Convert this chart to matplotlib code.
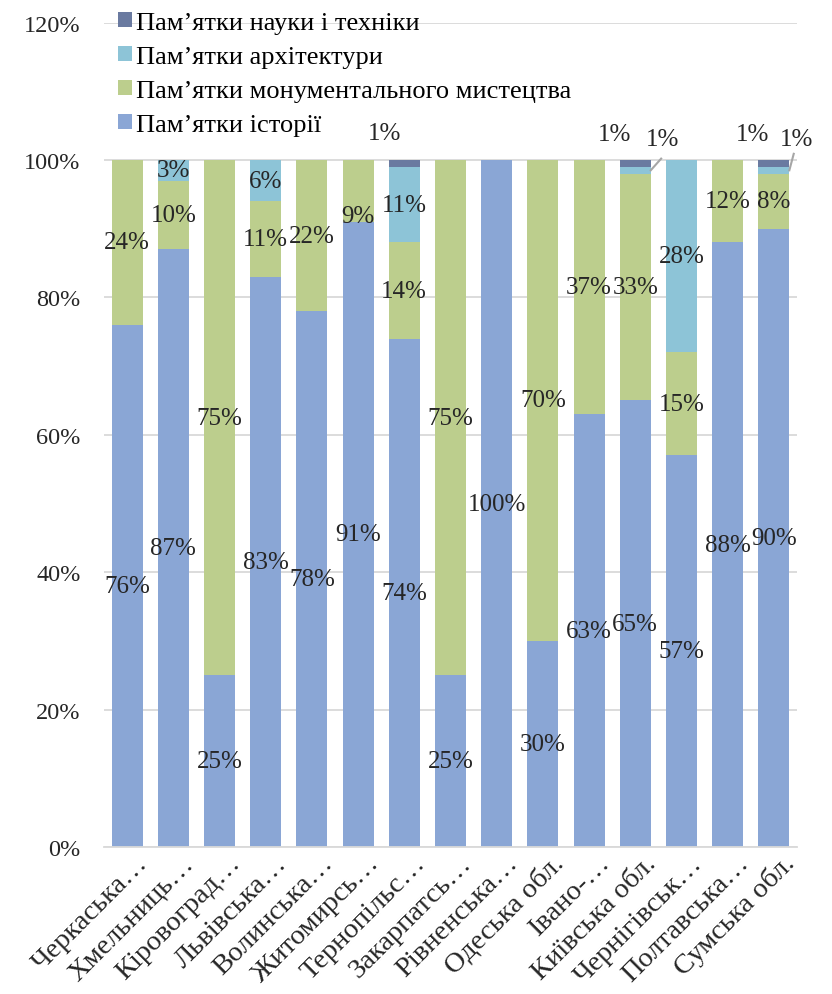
import matplotlib.pyplot as plt
import matplotlib.transforms as mtransforms
import numpy as np

plt.rcParams['font.family'] = ['Liberation Serif', 'DejaVu Serif']

# Регіони (підписи обрізані як в оригіналі)
regions = ['Черкаська…', 'Хмельниць…', 'Кіровоград…', 'Львівська…', 'Волинська…',
           'Житомирсь…', 'Тернопільс…', 'Закарпатсь…', 'Рівненська…', 'Одеська обл.',
           'Івано-…', 'Київська обл.', 'Чернігівськ…', 'Полтавська…', 'Сумська обл.']

# Частки пам'яток, %
history = [76, 87, 25, 83, 78, 91, 74, 25, 100, 30, 63, 65, 57, 88, 90]
monumental = [24, 10, 75, 11, 22, 9, 14, 75, 0, 70, 37, 33, 15, 12, 8]
architecture = [0, 3, 0, 6, 0, 0, 11, 0, 0, 0, 0, 1, 28, 0, 1]
science = [0, 0, 0, 0, 0, 0, 1, 0, 0, 0, 0, 1, 0, 0, 1]

series = [
    ('Пам’ятки історії', history, '#8AA6D5'),
    ('Пам’ятки монументального мистецтва', monumental, '#BCCE8D'),
    ('Пам’ятки архітектури', architecture, '#8DC4D7'),
    ('Пам’ятки науки і техніки', science, '#6A7AA0'),
]

# ручні зсуви підписів (series index, bar) -> (dx, y), як у вихідній діаграмі
label_moves = {
    (1, 5): (0, 91.8),
    (3, 6): (-0.43, 103.9),
    (3, 11): (-0.45, 103.8),
    (2, 11): (0.58, 103.1),
    (3, 14): (-0.47, 103.8),
    (2, 14): (0.48, 103.1),
}
leaders = {(2, 11): (0.56, 100.2), (2, 14): (0.43, 100.9)}

fig = plt.figure(figsize=(8.32, 9.95), dpi=100)
ax = fig.add_axes([0.125, 0.1477, 0.8329, 0.8286])

x = np.arange(len(regions))
width = 0.67
bottom = np.zeros(len(regions))
handles = []
for si, (name, vals, color) in enumerate(series):
    vals = np.array(vals, dtype=float)
    bars = ax.bar(x, vals, width, bottom=bottom, color=color, label=name, zorder=2)
    handles.append(bars)
    for i, v in enumerate(vals):
        if v <= 0:
            continue
        cx, cy = x[i], bottom[i] + v / 2
        if (si, i) in label_moves:
            dx, cy = label_moves[(si, i)]
            cx = x[i] + dx
        ax.text(cx, cy, f'{int(v)}%', ha='center', va='center',
                fontsize=18, color='#262626', zorder=4)
        if (si, i) in leaders:
            lx, ly = leaders[(si, i)]
            ax.plot([x[i] + width / 2, x[i] + lx], [bottom[i] + v / 2, ly],
                    color='#A6A6A6', lw=1.5, zorder=3, clip_on=False)
    bottom += vals

ax.set_ylim(0, 120)
ax.set_xlim(-0.5, len(regions) - 0.5)
ax.set_yticks(np.arange(0, 121, 20))
ax.set_yticklabels([f'{t}%' for t in range(0, 121, 20)], fontsize=17.5, color='#262626')
ax.yaxis.grid(True, color='#D9D9D9', lw=1.3, zorder=0)
ax.tick_params(axis='y', length=0, pad=17)
for s in ['top', 'right', 'left']:
    ax.spines[s].set_visible(False)
ax.spines['bottom'].set_color('#D9D9D9')
ax.spines['bottom'].set_linewidth(1.3)

ax.set_xticks(x)
ax.set_xticklabels(regions, rotation=45, ha='right', va='center',
                   rotation_mode='anchor', fontsize=20.5, color='#262626')
ax.tick_params(axis='x', length=0, pad=0)
shift = mtransforms.ScaledTranslation(0.17, -0.12, fig.dpi_scale_trans)
for lbl in ax.get_xticklabels():
    lbl.set_transform(lbl.get_transform() + shift)

leg = fig.legend(handles[::-1], [s[0] for s in series][::-1],
                 loc='upper left', bbox_to_anchor=(118 / 832, 0.987), frameon=False,
                 fontsize=19, handlelength=0.53, handleheight=0.53,
                 handletextpad=0.15, labelspacing=0.45, borderpad=0, borderaxespad=0)

fig.savefig('out.png', dpi=100)
